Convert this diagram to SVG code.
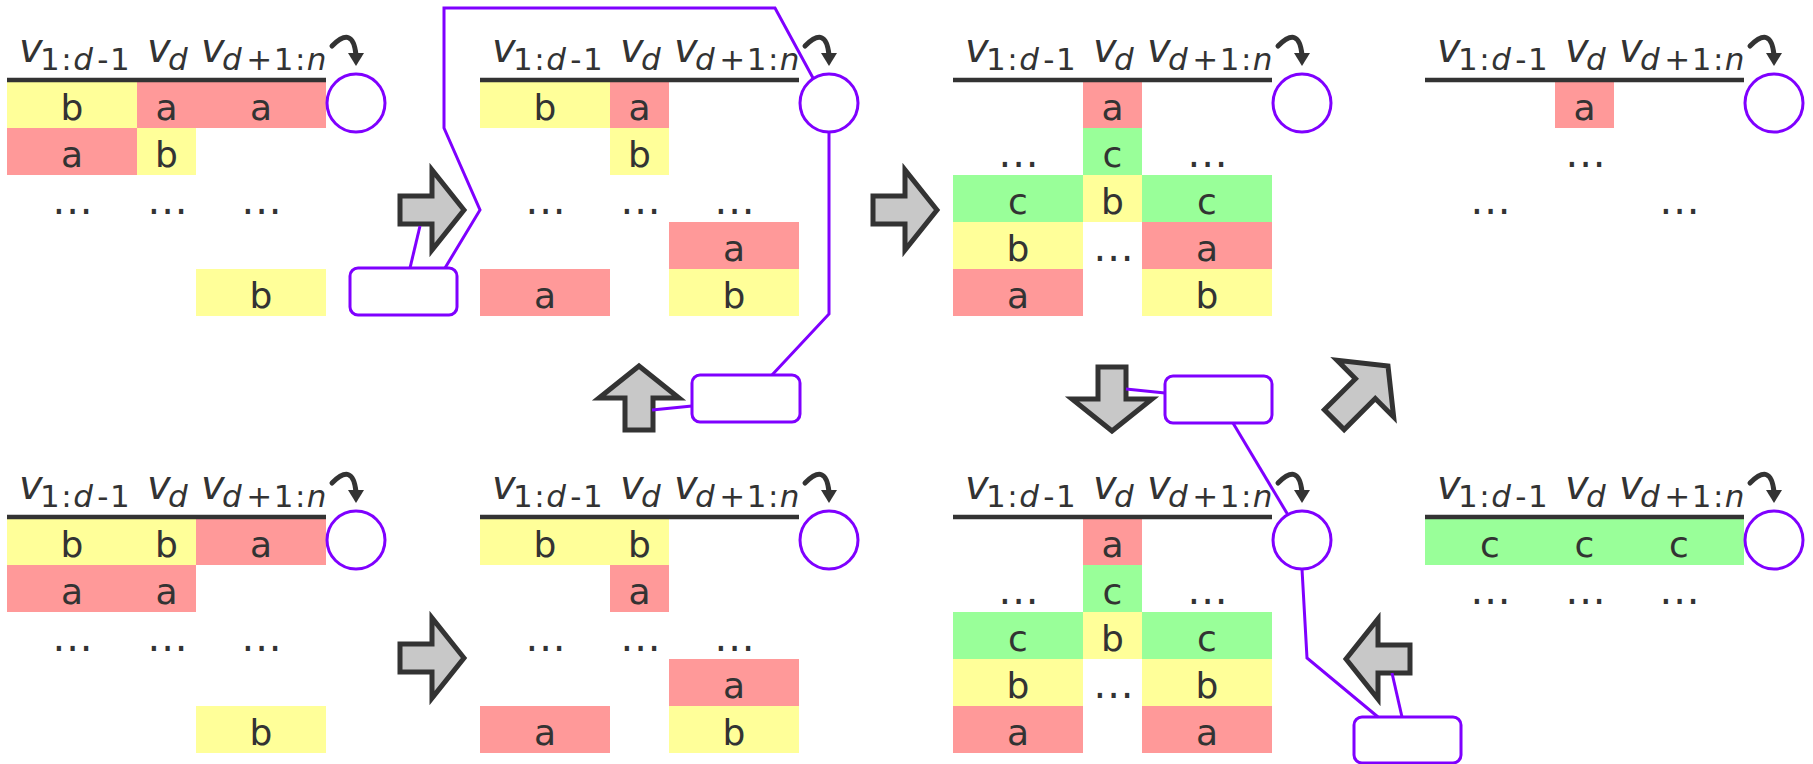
<svg xmlns="http://www.w3.org/2000/svg" width="1813" height="764" viewBox="0 0 1813 764">
<style>
.hdr{font-family:"DejaVu Sans","Liberation Sans",sans-serif;fill:#333}
.v{font-size:40px;font-style:italic}
.sub{font-size:31px;letter-spacing:1.5px}
.i{font-style:italic}
.cell{font-family:"DejaVu Sans","Liberation Sans",sans-serif;font-size:36px;fill:#333;text-anchor:middle}
.dots{font-size:40px;letter-spacing:1px}
.R{fill:#ff9999}.Y{fill:#ffff99}.G{fill:#99ff99}
.rule{stroke:#333;stroke-width:4.5}
.circ{fill:#fff;stroke:#7f00ff;stroke-width:3}
.curl{fill:none;stroke:#333;stroke-width:5;stroke-linecap:round}
.head{fill:#333}
.blk{fill:#c8c8c8;stroke:#333;stroke-width:5;stroke-linejoin:miter}
.box{fill:#fff;stroke:#7f00ff;stroke-width:3}
.con{fill:none;stroke:#7f00ff;stroke-width:3;stroke-linejoin:miter}
</style>
<defs>
<polygon id="rarrow" points="0,0 -32,-40 -32,-14 -64,-14 -64,14 -32,14 -32,40"/>
</defs>

<!-- Panel 1 -->
<g id="p1" transform="translate(7,0)">
<rect class="Y" x="0" y="81" width="130" height="47"/><rect class="R" x="130" y="81" width="189" height="47"/>
<rect class="R" x="0" y="128" width="130" height="47"/><rect class="Y" x="130" y="128" width="59" height="47"/>
<rect class="Y" x="189" y="269" width="130" height="47"/>
<text class="cell" x="65" y="120">b</text><text class="cell" x="159.5" y="120">a</text><text class="cell" x="254" y="120">a</text>
<text class="cell" x="65" y="167">a</text><text class="cell" x="159.5" y="167">b</text>
<text class="cell dots" x="66" y="214">...</text><text class="cell dots" x="161" y="214">...</text><text class="cell dots" x="255" y="214">...</text>
<text class="cell" x="254" y="308">b</text>
<line class="rule" x1="0" y1="80" x2="319" y2="80"/>
<text class="hdr"><tspan class="v" x="12" y="62">v</tspan><tspan class="sub" x="33" y="70">1:</tspan><tspan class="sub i">d</tspan><tspan class="sub" dx="3">-1</tspan><tspan class="v" x="140" y="62">v</tspan><tspan class="sub i" x="161" y="70">d</tspan><tspan class="v" x="194" y="62">v</tspan><tspan class="sub i" x="215" y="70">d</tspan><tspan class="sub" dx="3">+1:</tspan><tspan class="sub i">n</tspan></text>
<path class="curl" d="M325,46 Q346,25 349,55"/><polygon class="head" points="341,53 357,53 349,66"/>
<circle class="circ" cx="349" cy="103" r="29"/>
</g>

<!-- Panel 2 -->
<g id="p2" transform="translate(480,0)">
<rect class="Y" x="0" y="81" width="130" height="47"/><rect class="R" x="130" y="81" width="59" height="47"/>
<rect class="Y" x="130" y="128" width="59" height="47"/>
<rect class="R" x="189" y="222" width="130" height="47"/>
<rect class="R" x="0" y="269" width="130" height="47"/><rect class="Y" x="189" y="269" width="130" height="47"/>
<text class="cell" x="65" y="120">b</text><text class="cell" x="159.5" y="120">a</text>
<text class="cell" x="159.5" y="167">b</text>
<text class="cell dots" x="66" y="214">...</text><text class="cell dots" x="161" y="214">...</text><text class="cell dots" x="255" y="214">...</text>
<text class="cell" x="254" y="261">a</text>
<text class="cell" x="65" y="308">a</text><text class="cell" x="254" y="308">b</text>
<line class="rule" x1="0" y1="80" x2="319" y2="80"/>
<text class="hdr"><tspan class="v" x="12" y="62">v</tspan><tspan class="sub" x="33" y="70">1:</tspan><tspan class="sub i">d</tspan><tspan class="sub" dx="3">-1</tspan><tspan class="v" x="140" y="62">v</tspan><tspan class="sub i" x="161" y="70">d</tspan><tspan class="v" x="194" y="62">v</tspan><tspan class="sub i" x="215" y="70">d</tspan><tspan class="sub" dx="3">+1:</tspan><tspan class="sub i">n</tspan></text>
<path class="curl" d="M325,46 Q346,25 349,55"/><polygon class="head" points="341,53 357,53 349,66"/>
<circle class="circ" cx="349" cy="103" r="29"/>
</g>

<!-- Panel 3 -->
<g id="p3" transform="translate(953,0)">
<rect class="R" x="130" y="81" width="59" height="47"/>
<rect class="G" x="130" y="128" width="59" height="47"/>
<rect class="G" x="0" y="175" width="130" height="47"/><rect class="Y" x="130" y="175" width="59" height="47"/><rect class="G" x="189" y="175" width="130" height="47"/>
<rect class="Y" x="0" y="222" width="130" height="47"/><rect class="R" x="189" y="222" width="130" height="47"/>
<rect class="R" x="0" y="269" width="130" height="47"/><rect class="Y" x="189" y="269" width="130" height="47"/>
<text class="cell" x="159.5" y="120">a</text>
<text class="cell dots" x="66" y="167">...</text><text class="cell" x="159.5" y="167">c</text><text class="cell dots" x="255" y="167">...</text>
<text class="cell" x="65" y="214">c</text><text class="cell" x="159.5" y="214">b</text><text class="cell" x="254" y="214">c</text>
<text class="cell" x="65" y="261">b</text><text class="cell dots" x="161" y="261">...</text><text class="cell" x="254" y="261">a</text>
<text class="cell" x="65" y="308">a</text><text class="cell" x="254" y="308">b</text>
<line class="rule" x1="0" y1="80" x2="319" y2="80"/>
<text class="hdr"><tspan class="v" x="12" y="62">v</tspan><tspan class="sub" x="33" y="70">1:</tspan><tspan class="sub i">d</tspan><tspan class="sub" dx="3">-1</tspan><tspan class="v" x="140" y="62">v</tspan><tspan class="sub i" x="161" y="70">d</tspan><tspan class="v" x="194" y="62">v</tspan><tspan class="sub i" x="215" y="70">d</tspan><tspan class="sub" dx="3">+1:</tspan><tspan class="sub i">n</tspan></text>
<path class="curl" d="M325,46 Q346,25 349,55"/><polygon class="head" points="341,53 357,53 349,66"/>
<circle class="circ" cx="349" cy="103" r="29"/>
</g>

<!-- Panel 4 -->
<g id="p4" transform="translate(1425,0)">
<rect class="R" x="130" y="81" width="59" height="47"/>
<text class="cell" x="159.5" y="120">a</text>
<text class="cell dots" x="161" y="167">...</text>
<text class="cell dots" x="66" y="214">...</text><text class="cell dots" x="255" y="214">...</text>
<line class="rule" x1="0" y1="80" x2="319" y2="80"/>
<text class="hdr"><tspan class="v" x="12" y="62">v</tspan><tspan class="sub" x="33" y="70">1:</tspan><tspan class="sub i">d</tspan><tspan class="sub" dx="3">-1</tspan><tspan class="v" x="140" y="62">v</tspan><tspan class="sub i" x="161" y="70">d</tspan><tspan class="v" x="194" y="62">v</tspan><tspan class="sub i" x="215" y="70">d</tspan><tspan class="sub" dx="3">+1:</tspan><tspan class="sub i">n</tspan></text>
<path class="curl" d="M325,46 Q346,25 349,55"/><polygon class="head" points="341,53 357,53 349,66"/>
<circle class="circ" cx="349" cy="103" r="29"/>
</g>

<!-- Panel 5 -->
<g id="p5" transform="translate(7,437)">
<rect class="Y" x="0" y="81" width="189" height="47"/><rect class="R" x="189" y="81" width="130" height="47"/>
<rect class="R" x="0" y="128" width="189" height="47"/>
<rect class="Y" x="189" y="269" width="130" height="47"/>
<text class="cell" x="65" y="120">b</text><text class="cell" x="159.5" y="120">b</text><text class="cell" x="254" y="120">a</text>
<text class="cell" x="65" y="167">a</text><text class="cell" x="159.5" y="167">a</text>
<text class="cell dots" x="66" y="214">...</text><text class="cell dots" x="161" y="214">...</text><text class="cell dots" x="255" y="214">...</text>
<text class="cell" x="254" y="308">b</text>
<line class="rule" x1="0" y1="80" x2="319" y2="80"/>
<text class="hdr"><tspan class="v" x="12" y="62">v</tspan><tspan class="sub" x="33" y="70">1:</tspan><tspan class="sub i">d</tspan><tspan class="sub" dx="3">-1</tspan><tspan class="v" x="140" y="62">v</tspan><tspan class="sub i" x="161" y="70">d</tspan><tspan class="v" x="194" y="62">v</tspan><tspan class="sub i" x="215" y="70">d</tspan><tspan class="sub" dx="3">+1:</tspan><tspan class="sub i">n</tspan></text>
<path class="curl" d="M325,46 Q346,25 349,55"/><polygon class="head" points="341,53 357,53 349,66"/>
<circle class="circ" cx="349" cy="103" r="29"/>
</g>

<!-- Panel 6 -->
<g id="p6" transform="translate(480,437)">
<rect class="Y" x="0" y="81" width="189" height="47"/>
<rect class="R" x="130" y="128" width="59" height="47"/>
<rect class="R" x="189" y="222" width="130" height="47"/>
<rect class="R" x="0" y="269" width="130" height="47"/><rect class="Y" x="189" y="269" width="130" height="47"/>
<text class="cell" x="65" y="120">b</text><text class="cell" x="159.5" y="120">b</text>
<text class="cell" x="159.5" y="167">a</text>
<text class="cell dots" x="66" y="214">...</text><text class="cell dots" x="161" y="214">...</text><text class="cell dots" x="255" y="214">...</text>
<text class="cell" x="254" y="261">a</text>
<text class="cell" x="65" y="308">a</text><text class="cell" x="254" y="308">b</text>
<line class="rule" x1="0" y1="80" x2="319" y2="80"/>
<text class="hdr"><tspan class="v" x="12" y="62">v</tspan><tspan class="sub" x="33" y="70">1:</tspan><tspan class="sub i">d</tspan><tspan class="sub" dx="3">-1</tspan><tspan class="v" x="140" y="62">v</tspan><tspan class="sub i" x="161" y="70">d</tspan><tspan class="v" x="194" y="62">v</tspan><tspan class="sub i" x="215" y="70">d</tspan><tspan class="sub" dx="3">+1:</tspan><tspan class="sub i">n</tspan></text>
<path class="curl" d="M325,46 Q346,25 349,55"/><polygon class="head" points="341,53 357,53 349,66"/>
<circle class="circ" cx="349" cy="103" r="29"/>
</g>

<!-- Panel 7 -->
<g id="p7" transform="translate(953,437)">
<rect class="R" x="130" y="81" width="59" height="47"/>
<rect class="G" x="130" y="128" width="59" height="47"/>
<rect class="G" x="0" y="175" width="130" height="47"/><rect class="Y" x="130" y="175" width="59" height="47"/><rect class="G" x="189" y="175" width="130" height="47"/>
<rect class="Y" x="0" y="222" width="130" height="47"/><rect class="Y" x="189" y="222" width="130" height="47"/>
<rect class="R" x="0" y="269" width="130" height="47"/><rect class="R" x="189" y="269" width="130" height="47"/>
<text class="cell" x="159.5" y="120">a</text>
<text class="cell dots" x="66" y="167">...</text><text class="cell" x="159.5" y="167">c</text><text class="cell dots" x="255" y="167">...</text>
<text class="cell" x="65" y="214">c</text><text class="cell" x="159.5" y="214">b</text><text class="cell" x="254" y="214">c</text>
<text class="cell" x="65" y="261">b</text><text class="cell dots" x="161" y="261">...</text><text class="cell" x="254" y="261">b</text>
<text class="cell" x="65" y="308">a</text><text class="cell" x="254" y="308">a</text>
<line class="rule" x1="0" y1="80" x2="319" y2="80"/>
<text class="hdr"><tspan class="v" x="12" y="62">v</tspan><tspan class="sub" x="33" y="70">1:</tspan><tspan class="sub i">d</tspan><tspan class="sub" dx="3">-1</tspan><tspan class="v" x="140" y="62">v</tspan><tspan class="sub i" x="161" y="70">d</tspan><tspan class="v" x="194" y="62">v</tspan><tspan class="sub i" x="215" y="70">d</tspan><tspan class="sub" dx="3">+1:</tspan><tspan class="sub i">n</tspan></text>
<path class="curl" d="M325,46 Q346,25 349,55"/><polygon class="head" points="341,53 357,53 349,66"/>
<circle class="circ" cx="349" cy="103" r="29"/>
</g>

<!-- Panel 8 -->
<g id="p8" transform="translate(1425,437)">
<rect class="G" x="0" y="81" width="319" height="47"/>
<text class="cell" x="65" y="120">c</text><text class="cell" x="159.5" y="120">c</text><text class="cell" x="254" y="120">c</text>
<text class="cell dots" x="66" y="167">...</text><text class="cell dots" x="161" y="167">...</text><text class="cell dots" x="255" y="167">...</text>
<line class="rule" x1="0" y1="80" x2="319" y2="80"/>
<text class="hdr"><tspan class="v" x="12" y="62">v</tspan><tspan class="sub" x="33" y="70">1:</tspan><tspan class="sub i">d</tspan><tspan class="sub" dx="3">-1</tspan><tspan class="v" x="140" y="62">v</tspan><tspan class="sub i" x="161" y="70">d</tspan><tspan class="v" x="194" y="62">v</tspan><tspan class="sub i" x="215" y="70">d</tspan><tspan class="sub" dx="3">+1:</tspan><tspan class="sub i">n</tspan></text>
<path class="curl" d="M325,46 Q346,25 349,55"/><polygon class="head" points="341,53 357,53 349,66"/>
<circle class="circ" cx="349" cy="103" r="29"/>
</g>

<!-- Label boxes -->
<g id="box1"><rect class="box" x="350" y="268" width="107" height="47" rx="8"/></g>
<g id="box2"><rect class="box" x="692" y="375" width="108" height="47" rx="8"/></g>
<g id="box3"><rect class="box" x="1165" y="376" width="107" height="47" rx="8"/></g>
<g id="box4"><rect class="box" x="1354" y="717" width="107" height="46" rx="8"/></g>

<!-- Block transition arrows -->
<g id="transitions">
<use href="#rarrow" class="blk" transform="translate(464,210)"/>
<use href="#rarrow" class="blk" transform="translate(937,210)"/>
<use href="#rarrow" class="blk" transform="translate(464,658)"/>
<use href="#rarrow" class="blk" transform="translate(639,366) rotate(-90)"/>
<use href="#rarrow" class="blk" transform="translate(1112,431) rotate(90)"/>
<use href="#rarrow" class="blk" transform="translate(1346,659) rotate(180)"/>
<polygon class="blk" transform="translate(1388,366) rotate(-45)" points="0,0 -32,-40 -32,-14 -76,-14 -76,14 -32,14 -32,40"/>
</g>

<!-- Connectors -->
<g id="connectors">
<line class="con" x1="410" y1="268" x2="420" y2="226"/>
<polyline class="con" points="445,268 480,210 444,128 444,8 775,8 813,78"/>
<line class="con" x1="652" y1="410" x2="692" y2="406"/>
<polyline class="con" points="772,375 829,314 829,132"/>
<line class="con" x1="1126" y1="389" x2="1165" y2="393"/>
<line class="con" x1="1233" y1="423" x2="1288" y2="515"/>
<polyline class="con" points="1302,569 1307,658 1378,717"/>
<line class="con" x1="1402" y1="717" x2="1392" y2="673"/>
</g>
</svg>
